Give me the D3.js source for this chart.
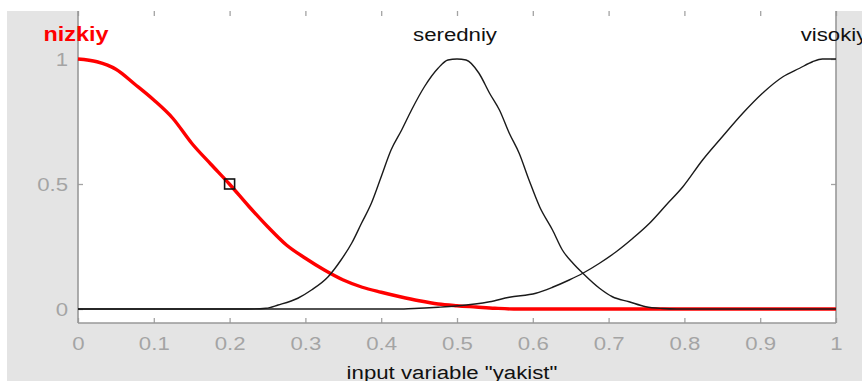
<!DOCTYPE html>
<html>
<head>
<meta charset="utf-8">
<script src="https://cdn.jsdelivr.net/npm/d3@7"></script>
<style>
  html, body { margin: 0; padding: 0; background: #ffffff; }
  svg { display: block; }
  text { font-family: "Liberation Sans", Arial, sans-serif; }
</style>
</head>
<body>
<svg id="chart" width="862" height="381"></svg>
<script>
// ---- data ----
const xTicks = [0, 0.1, 0.2, 0.3, 0.4, 0.5, 0.6, 0.7, 0.8, 0.9, 1];
const xTickLabels = ["0", "0.1", "0.2", "0.3", "0.4", "0.5", "0.6", "0.7", "0.8", "0.9", "1"];
const yTicks = [0, 0.5, 1];
const yTickLabels = ["0", "0.5", "1"];
const mfLabels = ["nizkiy", "seredniy", "visokiy"];
const mfPeaks = [0, 0.5, 1];
const axisTitle = 'input variable "yakist"';
const markerPoint = [0.2, 0.5];

const nizkiy = [
  [0, 1.0], [0.025, 0.989], [0.05, 0.959], [0.075, 0.899], [0.1, 0.836],
  [0.125, 0.763], [0.15, 0.663], [0.175, 0.58], [0.2, 0.499], [0.225, 0.412],
  [0.25, 0.33], [0.275, 0.256], [0.3, 0.203], [0.325, 0.156], [0.35, 0.116],
  [0.375, 0.087], [0.4, 0.067], [0.425, 0.049], [0.45, 0.033], [0.475, 0.02],
  [0.5, 0.013], [0.525, 0.008], [0.55, 0.003], [0.575, 0], [1, 0]
];
const seredniy = [
  [0, 0], [0.224, 0], [0.248, 0.003], [0.264, 0.016], [0.29, 0.043], [0.308, 0.076],
  [0.33, 0.129], [0.347, 0.196], [0.361, 0.263], [0.374, 0.343], [0.387, 0.423],
  [0.4, 0.529], [0.413, 0.636], [0.427, 0.716], [0.44, 0.796], [0.457, 0.889],
  [0.475, 0.963], [0.488, 0.996], [0.5, 1.0], [0.512, 0.996], [0.529, 0.943],
  [0.543, 0.863], [0.556, 0.796], [0.569, 0.703], [0.582, 0.623], [0.595, 0.516],
  [0.609, 0.409], [0.626, 0.316], [0.639, 0.236], [0.653, 0.183], [0.666, 0.143],
  [0.688, 0.083], [0.705, 0.049], [0.727, 0.029], [0.749, 0.009], [0.771, 0.002],
  [0.79, 0], [1, 0]
];
const visokiy = [
  [0, 0], [0.43, 0], [0.45, 0.003], [0.475, 0.007], [0.499, 0.012], [0.543, 0.029],
  [0.569, 0.047], [0.604, 0.063], [0.626, 0.087], [0.648, 0.116], [0.666, 0.143],
  [0.688, 0.183], [0.71, 0.229], [0.732, 0.283], [0.754, 0.343], [0.776, 0.416],
  [0.798, 0.489], [0.824, 0.596], [0.85, 0.689], [0.877, 0.783], [0.903, 0.863],
  [0.93, 0.929], [0.952, 0.963], [0.969, 0.989], [0.982, 1.0], [1, 1.0]
];

// ---- layout ----
const svg = d3.select("#chart");
const W = 862, H = 381;
const x = d3.scaleLinear().domain([0, 1]).range([78, 836]);
const y = d3.scaleLinear().domain([0, 1]).range([309, 59]);
const plotTop = 11, plotBottom = 323;
const sx = 1.17; // horizontal stretch of the reference font
const axisGray = "#a3a3a3";
const labelGray = "#a4a4a4";

// figure background
svg.append("rect").attr("x", 0).attr("y", 0).attr("width", W).attr("height", H).attr("fill", "#ffffff");
svg.append("rect").attr("x", 7).attr("y", plotTop).attr("width", W - 7).attr("height", H - plotTop).attr("fill", "#e4e4e4");
// plot area
svg.append("rect").attr("x", x(0)).attr("y", 0).attr("width", x(1) - x(0)).attr("height", plotBottom)
  .attr("fill", "#ffffff");

// axes
const xAxis = d3.axisBottom(x).tickValues(xTicks).tickFormat((d, i) => xTickLabels[i])
  .tickSizeInner(-5).tickSizeOuter(0).tickPadding(14);
const gx = svg.append("g").attr("transform", `translate(0,${plotBottom})`).call(xAxis);
gx.select(".domain").remove();
gx.selectAll(".tick line").attr("stroke", axisGray).attr("stroke-width", 1.3);
gx.selectAll(".tick text").attr("fill", labelGray).attr("font-size", 19)
  .attr("font-family", '"Liberation Sans", Arial, sans-serif')
  .attr("transform", `scale(${sx},1)`);

const xAxisTop = d3.axisTop(x).tickValues(xTicks).tickFormat("").tickSizeInner(-5).tickSizeOuter(0);
const gxt = svg.append("g").attr("transform", `translate(0,${plotTop})`).call(xAxisTop);
gxt.select(".domain").remove();
gxt.selectAll(".tick line").attr("stroke", axisGray).attr("stroke-width", 1.3);

const yAxis = d3.axisLeft(y).tickValues(yTicks).tickFormat((d, i) => yTickLabels[i])
  .tickSizeInner(-5).tickSizeOuter(0).tickPadding(10);
const gy = svg.append("g").attr("transform", `translate(${x(0)},0)`).call(yAxis);
gy.select(".domain").remove();
gy.selectAll(".tick line").attr("stroke", axisGray).attr("stroke-width", 1.3);
gy.selectAll(".tick text").attr("fill", labelGray).attr("font-size", 19)
  .attr("font-family", '"Liberation Sans", Arial, sans-serif')
  .attr("x", -10 / sx).attr("transform", `scale(${sx},1)`);

const yAxisR = d3.axisRight(y).tickValues(yTicks).tickFormat("").tickSizeInner(-5).tickSizeOuter(0);
const gyr = svg.append("g").attr("transform", `translate(${x(1)},0)`).call(yAxisR);
gyr.select(".domain").remove();
gyr.selectAll(".tick line").attr("stroke", axisGray).attr("stroke-width", 1.3);

// frame lines (left, right, bottom)
svg.append("line").attr("x1", x(0)).attr("x2", x(0)).attr("y1", plotTop).attr("y2", plotBottom)
  .attr("stroke", "#999999").attr("stroke-width", 1.6);
svg.append("line").attr("x1", x(1)).attr("x2", x(1)).attr("y1", plotTop).attr("y2", plotBottom)
  .attr("stroke", "#999999").attr("stroke-width", 1.6);
svg.append("line").attr("x1", x(0)).attr("x2", x(1)).attr("y1", plotBottom).attr("y2", plotBottom)
  .attr("stroke", "#999999").attr("stroke-width", 1.6);

// curves
const line = d3.line().x(d => x(d[0])).y(d => y(d[1])).curve(d3.curveMonotoneX);
svg.append("path").datum(nizkiy).attr("d", line).attr("fill", "none")
  .attr("stroke", "#ff0000").attr("stroke-width", 3.4).attr("stroke-linejoin", "round");
[seredniy, visokiy].forEach(s => {
  svg.append("path").datum(s).attr("d", line).attr("fill", "none")
    .attr("stroke", "#1a1a1a").attr("stroke-width", 1.4).attr("stroke-linejoin", "round");
});

// marker square on the selected curve
svg.append("rect")
  .attr("x", x(markerPoint[0]) - 5).attr("y", y(markerPoint[1]) - 5)
  .attr("width", 10).attr("height", 10)
  .attr("fill", "none").attr("stroke", "#111111").attr("stroke-width", 1.6);

// mf labels (the reference crops "visokiy" at the right edge)
mfLabels.forEach((lab, i) => {
  const g = svg.append("g").attr("transform", `translate(${x(mfPeaks[i]) - 2},41)`);
  g.append("text").attr("text-anchor", "middle")
    .attr("transform", `scale(${sx},1)`)
    .attr("font-size", i === 0 ? 20 : 19)
    .attr("font-weight", i === 0 ? "bold" : "normal")
    .attr("fill", i === 0 ? "#ff0000" : "#111111")
    .text(lab);
});

// axis title (cropped at the bottom edge in the reference)
svg.append("g").attr("transform", `translate(452,379)`)
  .append("text").attr("text-anchor", "middle").attr("transform", `scale(${sx},1)`)
  .attr("font-size", 19).attr("fill", "#111111").text(axisTitle);
</script>
</body>
</html>
